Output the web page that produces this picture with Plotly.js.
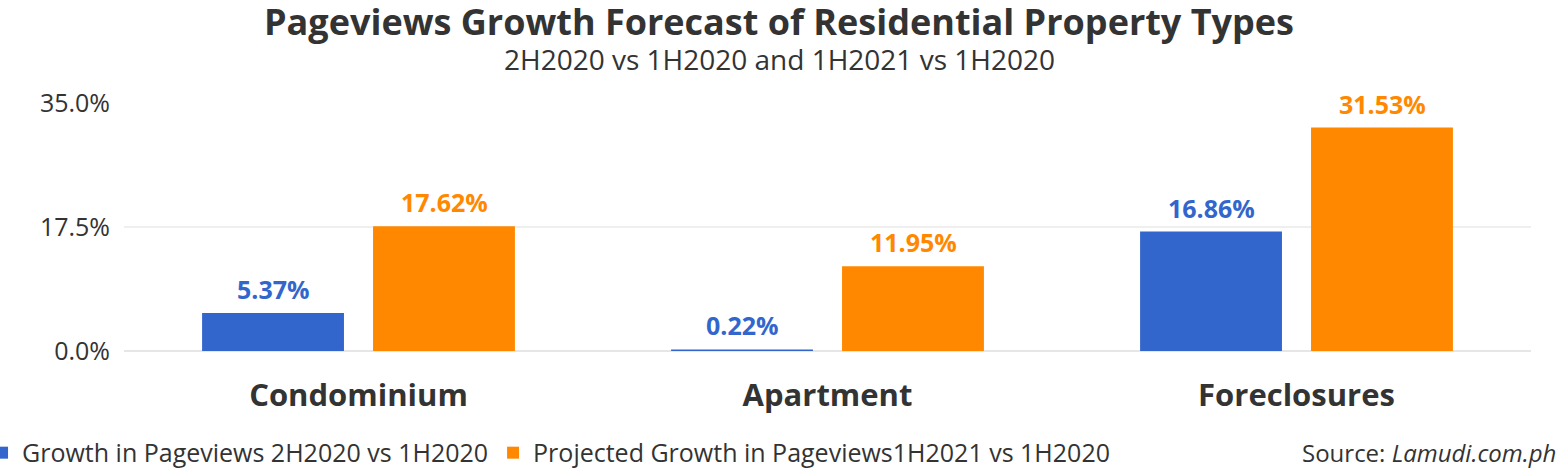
<!DOCTYPE html>
<html><head><meta charset="utf-8">
<script src="https://cdn.plot.ly/plotly-3.0.1.min.js"></script>
<style>html,body{margin:0;padding:0;background:#fff}#chart{width:1558px;height:470px}</style>
</head><body><div id="chart"></div>
<script>
const categories = ["Condominium", "Apartment", "Foreclosures"];
const growth2H2020 = [5.37, 0.22, 16.86];
const projected1H2021 = [17.62, 11.95, 31.53];
const seriesNames = ["Growth in Pageviews 2H2020 vs 1H2020", "Projected Growth in Pageviews1H2021 vs 1H2020"];
const yTickVals = [0, 17.5, 35];
const yTickText = ["0.0%", "17.5%", "35.0%"];
const colors = ["#3366CC", "#FF8800"];

const FONT = "'Open Sans', sans-serif";
const traces = [
  {type:"bar", name:seriesNames[0], x:categories, y:growth2H2020, marker:{color:colors[0]}, hoverinfo:"none"},
  {type:"bar", name:seriesNames[1], x:categories, y:projected1H2021, marker:{color:colors[1]}, hoverinfo:"none"}
];

const annotations = [];
const series = [growth2H2020, projected1H2021];
series.forEach((vals, s) => {
  vals.forEach((v, i) => {
    annotations.push({
      x: categories[i], y: v, xref:"x", yref:"y",
      text: v.toFixed(2) + "%", showarrow:false,
      xshift: s === 0 ? -85.5 : 85.5, yshift: 24, yanchor:"middle",
      font:{family:FONT, size:25, color:colors[s], weight:"bold"}
    });
  });
});
annotations.push({
  xref:"paper", yref:"paper", x:(779 - 124) / 1407, y:(351 - 59) / 248, xanchor:"center", yanchor:"middle",
  text:"2H2020 vs 1H2020 and 1H2021 vs 1H2020", showarrow:false,
  font:{family:FONT, size:28, color:"#333"}
});
annotations.push({
  xref:"paper", yref:"paper", x:1.019, y:-0.411, xanchor:"right", yanchor:"middle",
  text:"Source: <i>Lamudi.com.ph</i>", showarrow:false,
  font:{family:FONT, size:24, color:"#333"}
});

const layout = {
  width:1558, height:470,
  margin:{l:124, r:27, t:103, b:119, autoexpand:false},
  paper_bgcolor:"#fff", plot_bgcolor:"#fff",
  font:{family:FONT, color:"#333"},
  title:{
    text:"<b>Pageviews Growth Forecast of Residential Property Types</b>",
    x:0.5, xref:"container", xanchor:"center", y:1 - 22/470, yref:"container", yanchor:"middle",
    font:{family:FONT, size:36, color:"#333"}
  },
  barmode:"group", bargap:0.271, bargroupgap:0.17,
  xaxis:{
    type:"category", showgrid:false, zeroline:false, showline:false,
    ticks:"outside", ticklen:17, tickcolor:"rgba(0,0,0,0)",
    tickfont:{family:FONT, size:31, color:"#333", weight:"bold"}
  },
  yaxis:{
    range:[0,35], tickvals:yTickVals, ticktext:yTickText,
    showgrid:true, gridcolor:"#efefef", gridwidth:1.5,
    zeroline:true, zerolinecolor:"#e6e6e6", zerolinewidth:1.5, showline:false,
    ticks:"outside", ticklen:8, tickcolor:"rgba(0,0,0,0)",
    tickfont:{family:FONT, size:25, color:"#333"}
  },
  showlegend:true,
  legend:{
    orientation:"h", x:-0.1009, xanchor:"left", y:-0.411, yanchor:"middle",
    font:{family:FONT, size:25, color:"#333"}, itemwidth:30, bgcolor:"rgba(0,0,0,0)"
  },
  annotations: annotations
};
Plotly.newPlot("chart", traces, layout, {staticPlot:true, displayModeBar:false});
</script></body></html>
